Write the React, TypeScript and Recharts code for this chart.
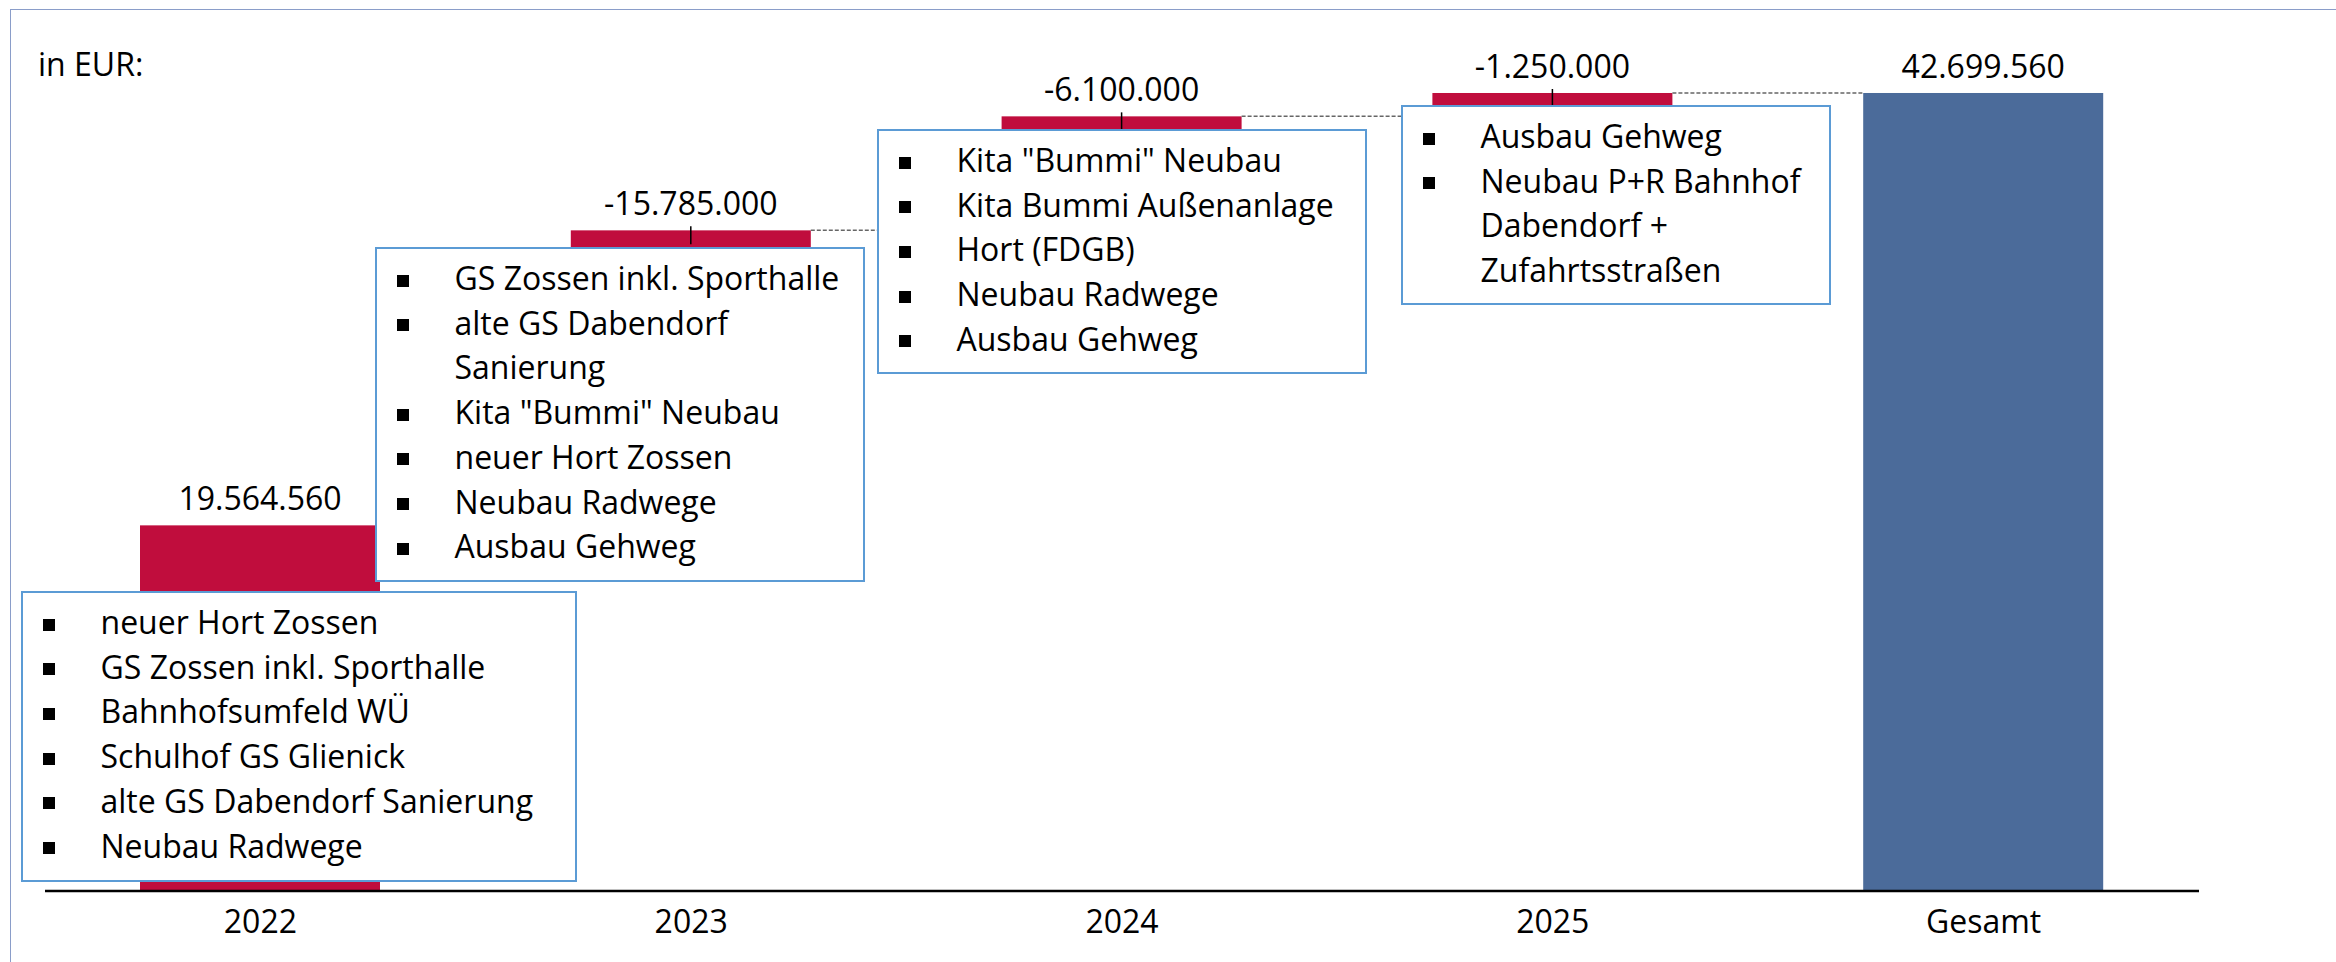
import { BarChart, Bar, XAxis, YAxis, LabelList } from 'recharts';

const categories = ['2022', '2023', '2024', '2025', 'Gesamt'];
// values as printed above the bars (the year steps are shown with a minus sign)
const amounts = [19564560, -15785000, -6100000, -1250000, 42699560];

const projects = [
  ['neuer Hort Zossen', 'GS Zossen inkl. Sporthalle', 'Bahnhofsumfeld WÜ', 'Schulhof GS Glienick', 'alte GS Dabendorf Sanierung', 'Neubau Radwege'],
  ['GS Zossen inkl. Sporthalle', 'alte GS Dabendorf\nSanierung', 'Kita "Bummi" Neubau', 'neuer Hort Zossen', 'Neubau Radwege', 'Ausbau Gehweg'],
  ['Kita "Bummi" Neubau', 'Kita Bummi Außenanlage', 'Hort (FDGB)', 'Neubau Radwege', 'Ausbau Gehweg'],
  ['Ausbau Gehweg', 'Neubau P+R Bahnhof\nDabendorf +\nZufahrtsstraßen'],
];

const W = 2336;
const H = 962;
const FONT = "'Open Sans', sans-serif";
const RED = '#C00D3D';
const BLUE = '#4B6B9A';
const PLOT_LEFT = 45;
const PLOT_RIGHT = 2199;
const STEP = (PLOT_RIGHT - PLOT_LEFT) / categories.length;

// annotation boxes (left, top, width, height)
const boxes = [
  { left: 21, top: 591, width: 556, height: 291 },
  { left: 375, top: 247, width: 490, height: 335 },
  { left: 877, top: 129, width: 490, height: 245 },
  { left: 1401, top: 105, width: 430, height: 200 },
];

let running = 0;
const rows = categories.map((name, i) => {
  const isTotal = i === categories.length - 1;
  const size = Math.abs(amounts[i]);
  const base = isTotal ? 0 : running;
  if (!isTotal) running += size;
  return { name, base, size, value: amounts[i], total: isTotal };
});

const fmt = (v: number) => {
  const s = Math.abs(v).toFixed(0).replace(/\B(?=(\d{3})+(?!\d))/g, '.');
  return (v < 0 ? '-' : '') + s;
};

function StepBar(props: any) {
  const { x, y, width, height, payload, index } = props;
  const last = index === categories.length - 1;
  return (
    <g>
      <rect x={x} y={y} width={width} height={height} fill={payload.total ? BLUE : RED} />
      {payload.value < 0 && (
        <line x1={x + width / 2} x2={x + width / 2} y1={y - 4} y2={y + 14} stroke="#000" strokeWidth={1.5} />
      )}
      {!last && (
        <line x1={x + width} x2={x + STEP} y1={y} y2={y} stroke="#666" strokeWidth={1.5} strokeDasharray="4 2" />
      )}
    </g>
  );
}

const valueLabel = (p: any) => (
  <text x={p.x + p.width / 2} y={p.y - 15} textAnchor="middle" fontSize={32} fill="#000" fontFamily={FONT}>
    {fmt(Number(p.value))}
  </text>
);

const yearTick = (p: any) => (
  <text x={p.x} y={p.y + 42} textAnchor="middle" fontSize={32} fill="#000" fontFamily={FONT}>
    {p.payload.value}
  </text>
);

export default function App() {
  return (
    <div style={{ position: 'absolute', left: 0, top: 0, width: W, height: H, overflow: 'hidden', background: '#fff', fontFamily: FONT }}>
      <div style={{ position: 'absolute', left: 10, top: 9, width: W + 20, height: H + 20, border: '1.5px solid #8A9DC9' }} />
      <div style={{ position: 'absolute', left: 38, top: 42, fontSize: 32, lineHeight: '44.7px', color: '#000' }}>in EUR:</div>

      <div style={{ position: 'absolute', left: 0, top: 0 }}>
        <BarChart width={W} height={H} data={rows} barSize={240}
          margin={{ top: 50, right: W - PLOT_RIGHT, bottom: 0, left: PLOT_LEFT }}>
          <XAxis dataKey="name" interval={0} height={71} tickLine={false} tickSize={0} tickMargin={0}
            axisLine={{ stroke: '#000', strokeWidth: 2.5 }} tick={yearTick} />
          <YAxis hide width={0} domain={[0, 45000000]} />
          <Bar dataKey="base" stackId="w" fill="transparent" isAnimationActive={false} />
          <Bar dataKey="size" stackId="w" shape={StepBar} isAnimationActive={false}>
            <LabelList dataKey="value" content={valueLabel} />
          </Bar>
        </BarChart>
      </div>

      {boxes.map((b, i) => (
        <div key={i} style={{
          position: 'absolute', left: b.left, top: b.top, width: b.width, height: b.height,
          boxSizing: 'border-box', border: '2.5px solid #5B9BD5', background: '#fff',
          paddingTop: 7, paddingLeft: 77.5, fontSize: 32, lineHeight: '44.7px', color: '#000',
        }}>
          {projects[i].map((t, j) => (
            <div key={j} style={{ position: 'relative', whiteSpace: 'pre' }}>
              <span style={{ position: 'absolute', left: -58, top: 18.5, width: 12, height: 12, background: '#000' }} />
              {t}
            </div>
          ))}
        </div>
      ))}
    </div>
  );
}
